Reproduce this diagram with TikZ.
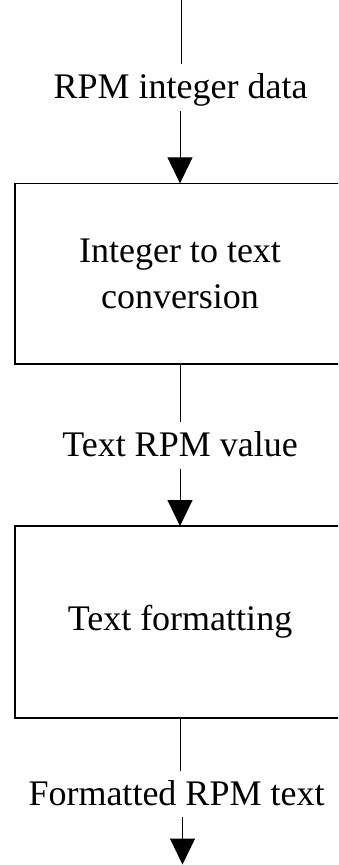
\documentclass[tikz,border=0pt]{standalone}
\usepackage{fontspec}
\setmainfont{Liberation Serif}
\usetikzlibrary{arrows.meta}
\begin{document}
\begin{tikzpicture}[x=1pt,y=-1pt,
  flow/.style={line width=1pt},
  arrowline/.style={flow,-{Triangle[length=26pt,width=25pt]}},
  procbox/.style={draw,line width=1.2pt,minimum width=330pt,inner sep=0pt,outer sep=0pt,
    align=center,font=\fontsize{36}{46}\selectfont},
  datalabel/.style={inner sep=0pt,outer sep=0pt,text height=34.5pt,text depth=12.3pt,
    font=\fontsize{36}{46}\selectfont}]
\useasboundingbox (0,0) rectangle (338,865);
\clip (0,0) rectangle (338,865);

% processing steps
\node[procbox,minimum height=180.7pt] (conv) at (180,273.7) {Integer to text\\conversion};
\node[procbox,minimum height=192pt] (fmt) at (180,622) {Text formatting};

% data flowing between the steps
\node[datalabel,anchor=base] (in) at (180.5,98.3) {RPM integer data};
\node[datalabel,anchor=base] (mid) at (180,456.7) {Text RPM value};
\node[datalabel,anchor=base] (out) at (176.5,805) {Formatted RPM text};

\coordinate (src) at (181.7,0);
\coordinate (sink) at (182.5,864.5);

% connectors
\draw[flow] (src) -- (src |- in.north);
\draw[arrowline] (in.south -| conv.north) -- (conv.north);
\draw[flow] (conv.south) -- (conv.south |- mid.north);
\draw[arrowline] (mid.south -| fmt.north) -- (fmt.north);
\draw[flow] (fmt.south) -- (fmt.south |- out.north);
\draw[arrowline] (sink |- out.south) -- (sink);
\end{tikzpicture}
\end{document}
